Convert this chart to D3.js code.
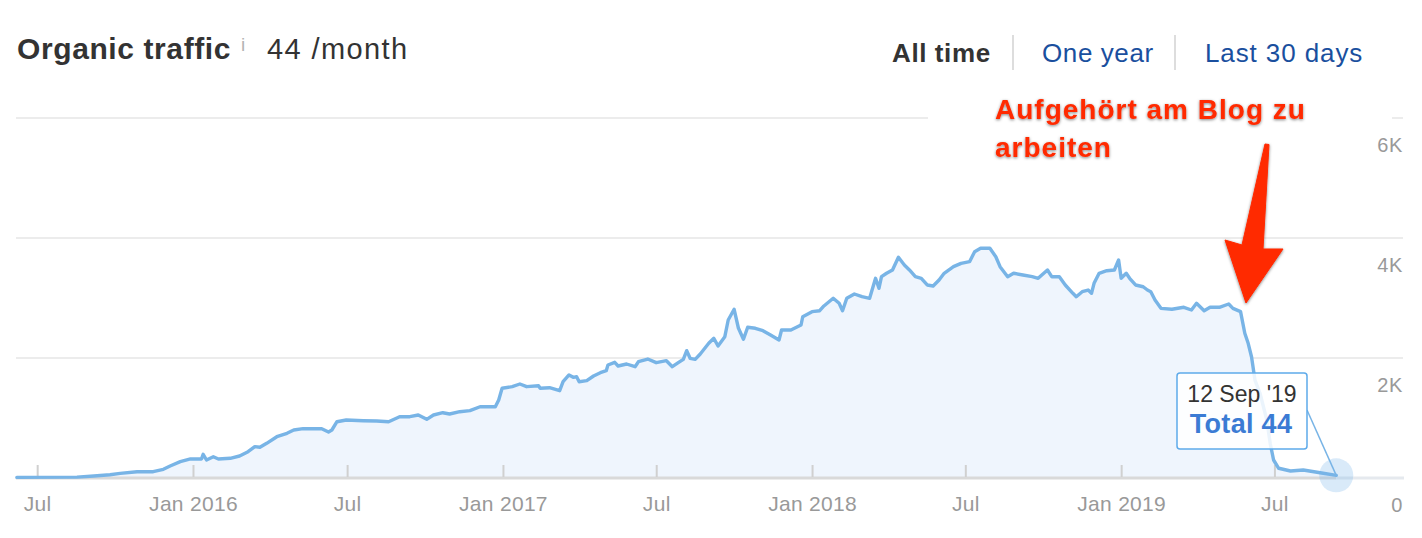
<!DOCTYPE html>
<html><head><meta charset="utf-8">
<script src="https://cdn.jsdelivr.net/npm/d3@7"></script>
<style>
html,body{margin:0;padding:0;background:#fff;}
svg{display:block;font-family:"Liberation Sans",Arial,Helvetica,sans-serif;}
</style>
</head><body>
<svg id="chart" width="1422" height="538"></svg>
<script>
// ---------- data ----------
const dates = [
"2015-06-07","2015-08-17","2015-09-06","2015-09-25","2015-10-07","2015-10-27","2015-11-15","2015-11-27","2015-12-05","2015-12-17","2015-12-29",
"2016-01-11","2016-01-13","2016-01-17","2016-01-25","2016-01-31","2016-02-14","2016-02-25","2016-03-06","2016-03-14","2016-03-20","2016-03-28","2016-04-09","2016-04-21","2016-04-29","2016-05-10","2016-06-01","2016-06-09","2016-06-13","2016-06-19","2016-06-30","2016-07-20","2016-08-05","2016-08-19","2016-09-01","2016-09-13","2016-09-23","2016-10-03","2016-10-11","2016-10-22","2016-10-30","2016-11-11","2016-11-23","2016-12-05","2016-12-23","2016-12-27","2016-12-31",
"2017-01-12","2017-01-21","2017-01-29","2017-02-12","2017-02-14","2017-02-25","2017-03-09","2017-03-13","2017-03-20","2017-03-25","2017-03-29","2017-04-01","2017-04-10","2017-04-18","2017-04-26","2017-05-03","2017-05-05","2017-05-13","2017-05-17","2017-05-27","2017-06-06","2017-06-10","2017-06-21","2017-07-01","2017-07-13","2017-07-20","2017-07-27","2017-08-02","2017-08-06","2017-08-10","2017-08-16","2017-08-22","2017-09-01","2017-09-07","2017-09-12","2017-09-20","2017-09-24","2017-10-01","2017-10-06","2017-10-12","2017-10-17","2017-10-26","2017-11-04","2017-11-13","2017-11-23","2017-11-26","2017-12-07","2017-12-19","2017-12-21",
"2018-01-01","2018-01-10","2018-01-15","2018-01-26","2018-02-02","2018-02-06","2018-02-11","2018-02-20","2018-03-01","2018-03-10","2018-03-17","2018-03-21","2018-03-24","2018-03-30","2018-04-06","2018-04-13","2018-04-20","2018-04-26","2018-05-03","2018-05-10","2018-05-17","2018-05-24","2018-05-31","2018-06-06","2018-06-17","2018-06-26","2018-07-06","2018-07-12","2018-07-19","2018-07-30","2018-08-06","2018-08-11","2018-08-20","2018-08-27","2018-09-07","2018-09-18","2018-09-25","2018-10-06","2018-10-11","2018-10-20","2018-10-27","2018-11-05","2018-11-09","2018-11-16","2018-11-23","2018-11-27","2018-11-30","2018-12-06","2018-12-15","2018-12-24","2018-12-29",
"2019-01-01","2019-01-07","2019-01-11","2019-01-18","2019-01-27","2019-02-01","2019-02-05","2019-02-10","2019-02-17","2019-03-02","2019-03-16","2019-03-25","2019-03-31","2019-04-09","2019-04-16","2019-04-27","2019-05-08","2019-05-13","2019-05-22","2019-05-27","2019-05-31","2019-06-04","2019-06-08","2019-06-14","2019-06-22","2019-06-26","2019-06-30","2019-07-06","2019-07-20","2019-08-04","2019-08-24","2019-09-12"
];
const values = [
10,15,33,55,78,105,105,145,200,272,317,
317,395,300,355,317,328,367,438,522,512,578,688,745,800,822,822,767,800,938,967,955,950,938,1022,1022,1050,978,1050,1088,1067,1105,1122,1188,1188,1300,1495,
1522,1567,1522,1538,1495,1505,1455,1605,1717,1678,1688,1605,1622,1700,1755,1788,1883,1928,1867,1900,1855,1938,1983,1922,1955,1855,1922,1978,2122,1995,1978,2067,2245,2328,2200,2355,2633,2812,2500,2312,2512,2495,2455,2383,2300,2467,2467,2550,2688,
2772,2788,2867,2995,2912,2788,2995,3067,3022,2995,3328,3162,3355,3412,3467,3678,3550,3467,3355,3328,3217,3200,3300,3412,3522,3578,3605,3772,3828,3828,3688,3522,3355,3412,3383,3355,3328,3467,3355,3355,3217,3078,3022,3105,3133,3078,3245,3412,3455,3467,3633,
3328,3412,3328,3217,3188,3133,3105,2967,2828,2812,2845,2800,2912,2788,2845,2845,2900,2828,2772,2412,2245,2017,1633,1412,967,578,300,162,117,133,88,44
];
const xDomain = ["2015-06-06","2019-12-01"];
const yDomain = [0, 6000];
const xTickDates = ["2015-07-01","2016-01-01","2016-07-01","2017-01-01","2017-07-01","2018-01-01","2018-07-01","2019-01-01","2019-07-01"];
const xTickLabels = ["Jul","Jan 2016","Jul","Jan 2017","Jul","Jan 2018","Jul","Jan 2019","Jul"];
const yTickValues = [0, 2000, 4000, 6000];
const yTickLabels = ["0","2K","4K","6K"];
const titleText = "Organic traffic";
const infoMark = "i";
const headlineValue = "44 /month";
const rangeButtons = ["All time","One year","Last 30 days"];
const annotationLines = ["Aufgehört am Blog zu","arbeiten"];
const tooltipDate = "12 Sep '19";
const tooltipLabel = "Total";

// ---------- setup ----------
const parse = d3.utcParse("%Y-%m-%d");
const series = dates.map((d,i)=>({date: parse(d), value: values[i]}));
const svg = d3.select("#chart");

const x = d3.scaleUtc().domain(xDomain.map(parse)).range([16, 1404]);
const y = d3.scaleLinear().domain(yDomain).range([478, 118]);

const defs = svg.append("defs");
const f = defs.append("filter").attr("id","shadow").attr("x","-10%").attr("y","-30%").attr("width","120%").attr("height","160%");
f.append("feDropShadow").attr("dx",0).attr("dy",1).attr("stdDeviation",1.8)
  .attr("flood-color","#000").attr("flood-opacity",0.5);

// gridlines
svg.append("g").selectAll("line").data(yTickValues.filter(v=>v>0)).join("line")
  .attr("x1",16).attr("x2",1403).attr("y1",d=>y(d)).attr("y2",d=>y(d))
  .attr("stroke","#e6e6e6").attr("stroke-width",1.5);

// white backing of the annotation (hides the top gridline there)
svg.append("rect").attr("x",928).attr("y",88).attr("width",464).attr("height",112).attr("fill","#fff");

// area
svg.append("path").datum(series)
  .attr("d", d3.area().x(d=>x(d.date)).y0(y(0)).y1(d=>y(d.value)))
  .attr("fill","#eff5fd");

// baseline
const last = series[series.length-1];
svg.append("line").attr("x1",16).attr("x2",x(last.date)).attr("y1",y(0)).attr("y2",y(0))
  .attr("stroke","#d9d9d9").attr("stroke-width",3);
svg.append("line").attr("x1",x(last.date)).attr("x2",1404).attr("y1",y(0)).attr("y2",y(0))
  .attr("stroke","#e5e9ee").attr("stroke-width",3);

// x axis (ticks point upward)
const xAxis = d3.axisBottom(x)
  .tickValues(xTickDates.map(parse))
  .tickSize(-12).tickPadding(19)
  .tickFormat((d,i)=>xTickLabels[i]);
const gx = svg.append("g").attr("transform",`translate(0,${y(0)-1})`).call(xAxis);
gx.select(".domain").remove();
gx.selectAll(".tick line").attr("stroke","#d0d0d0").attr("stroke-width",2);
gx.selectAll(".tick text").attr("fill","#999").attr("font-size",21).attr("letter-spacing",0.3)
  .attr("font-family","'Liberation Sans',Arial,Helvetica,sans-serif");

// y labels (right side, below gridlines)
svg.append("g").selectAll("text").data(yTickValues).join("text")
  .attr("x",1403).attr("y",d=>y(d)+34).attr("text-anchor","end")
  .attr("fill","#999").attr("font-size",20).attr("letter-spacing",0.6)
  .text((d,i)=>yTickLabels[i]);

// line
svg.append("path").datum(series)
  .attr("d", d3.line().x(d=>x(d.date)).y(d=>y(d.value)))
  .attr("fill","none").attr("stroke","#78b4e6").attr("stroke-width",3.4)
  .attr("stroke-linejoin","round").attr("stroke-linecap","round");

// hover point + tooltip
const px = x(last.date), py = y(last.value);
svg.append("circle").attr("cx",px).attr("cy",py).attr("r",17).attr("fill","rgba(120,180,232,0.28)");
svg.append("line").attr("x1",1307).attr("y1",410).attr("x2",px).attr("y2",py)
  .attr("stroke","#78b4e6").attr("stroke-width",1.5);
svg.append("rect").attr("x",1177).attr("y",373).attr("width",130).attr("height",76).attr("rx",3)
  .attr("fill","rgba(255,255,255,0.85)").attr("stroke","#5eaaea").attr("stroke-width",1.5);
svg.append("text").attr("x",1242).attr("y",402).attr("text-anchor","middle")
  .attr("font-size",23).attr("fill","#333").text(tooltipDate);
svg.append("text").attr("x",1241).attr("y",433).attr("text-anchor","middle")
  .attr("font-size",27).attr("font-weight","bold").attr("fill","#3b7bd4").attr("letter-spacing",0.3)
  .text(`${tooltipLabel} ${last.value}`);

// header
svg.append("text").attr("x",17).attr("y",59).attr("font-size",30).attr("font-weight","bold")
  .attr("fill","#333").attr("letter-spacing",0.6).text(titleText);
svg.append("text").attr("x",241).attr("y",51).attr("font-size",19)
  .attr("fill","#b3b3b3").text(infoMark);
svg.append("text").attr("x",267).attr("y",59).attr("font-size",29)
  .attr("fill","#333").attr("letter-spacing",1.4).text(headlineValue);

const btnX = [892, 1042, 1205];
const btnSpacing = [0.6, 0.6, 0.9];
svg.append("g").selectAll("text").data(rangeButtons).join("text")
  .attr("x",(d,i)=>btnX[i]).attr("y",62).attr("font-size",26)
  .attr("font-weight",(d,i)=>i===0?"bold":"normal")
  .attr("fill",(d,i)=>i===0?"#333":"#1a4f9e")
  .attr("letter-spacing",(d,i)=>btnSpacing[i])
  .text(d=>d);
svg.append("g").selectAll("line").data([1013,1175]).join("line")
  .attr("x1",d=>d).attr("x2",d=>d).attr("y1",35).attr("y2",70)
  .attr("stroke","#dddddd").attr("stroke-width",2);

// annotation
const ann = svg.append("g").attr("filter","url(#shadow)");
ann.selectAll("text").data(annotationLines).join("text")
  .attr("x",995).attr("y",(d,i)=>119+i*38)
  .attr("font-size",28).attr("font-weight","bold").attr("fill","#ff2a00")
  .attr("letter-spacing",1).text(d=>d);
ann.append("path")
  .attr("d","M1265,144 L1269,144.5 L1263,249 L1283,249 L1246,303 L1225,240 L1242,245 Z")
  .attr("fill","#ff2a00").attr("stroke","#ff2a00").attr("stroke-width",1).attr("stroke-linejoin","round");
</script>
</body></html>
